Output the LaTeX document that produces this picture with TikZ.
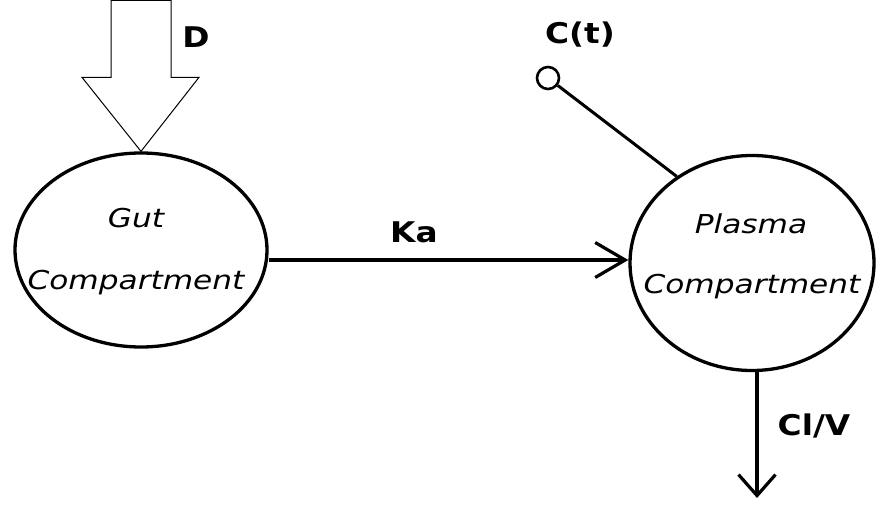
\documentclass[tikz,border=0pt]{standalone}
\usepackage{fontspec}
\usetikzlibrary{arrows.meta,shapes.geometric,calc}
\newfontfamily\compfont[FakeStretch=1.2]{DejaVu Sans}
\newfontfamily\ratefont[FakeStretch=1.15]{DejaVu Sans}
\begin{document}
\begin{tikzpicture}[x=1pt,y=-1pt,
  compartment/.style={ellipse,draw,line width=3.3pt,inner sep=0pt},
  comptext/.style={inner sep=0pt,font=\compfont\itshape\fontsize{26}{31}\selectfont},
  ratelabel/.style={inner sep=0pt,font=\ratefont\bfseries\fontsize{28.5}{33}\selectfont},
  flow/.style={line width=3.2pt,-{Straight Barb[length=30pt,width=35pt,line width=3.2pt]}},
  elim/.style={line width=3.2pt,-{Straight Barb[length=21pt,width=37pt,line width=3.2pt]}}]
\useasboundingbox (0,0) rectangle (877,508);

% compartments
\node[compartment,minimum width=252pt,minimum height=194pt] (gut) at (141,250) {};
\node[compartment,minimum width=244pt,minimum height=215pt] (plasma) at (752,263) {};
\node[comptext] (gutname) at (136,218) {Gut};
\node[comptext] (gutcomp) at (136,283) {Compartment};
\node[comptext] (plasmaname) at (751,224) {Plasma};
\node[comptext] (plasmacomp) at (752,287) {Compartment};

% dose input: hollow block arrow onto the gut
\draw[line width=1pt] (gut.north) -- ++(58,-74) -- ++(-28,0) -- ++(0,-77)
  -- ++(-60,0) -- ++(0,77) -- ++(-29,0) -- cycle;
\node[ratelabel] (dose) at (196,37) {D};

% absorption
\draw[flow] ([yshift=-10pt]gut.east) -- ([yshift=3pt]plasma.west);
\node[ratelabel] (ka) at (414,232) {Ka};

% sampling point
\node[circle,draw,line width=2.6pt,minimum size=22pt,inner sep=0pt] (ct) at (548,78) {};
\draw[line width=3pt] (ct) -- (plasma.131);
\node[ratelabel] (ctlabel) at (580,35) {C(t)};

% elimination
\coordinate (out) at (757,498);
\draw[elim] ([xshift=5pt]plasma.south) -- (out);
\node[ratelabel] (clv) at (814,426) {Cl/V};
\end{tikzpicture}
\end{document}
